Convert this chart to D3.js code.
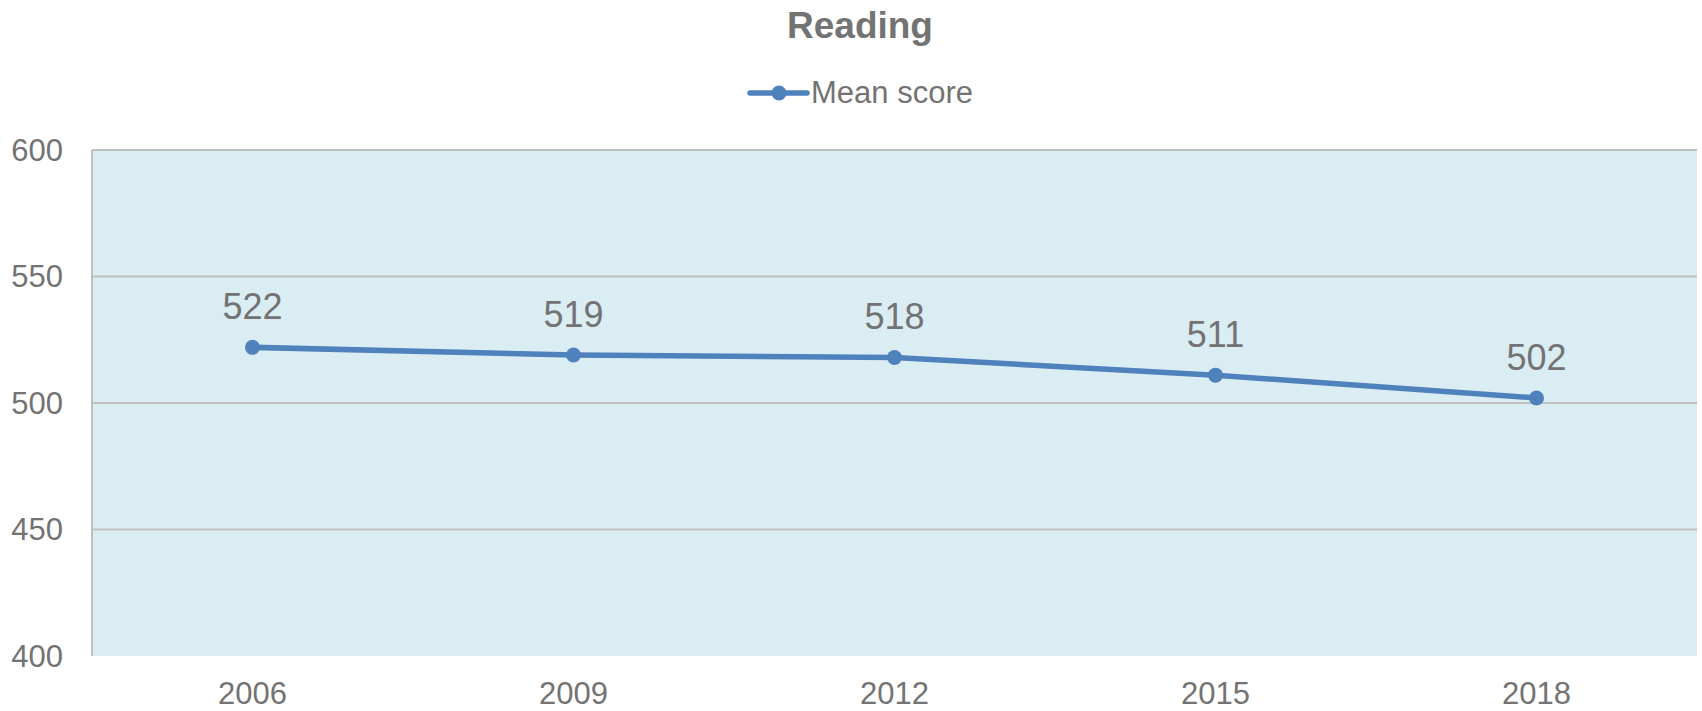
<!DOCTYPE html>
<html>
<head>
<meta charset="utf-8">
<script src="https://cdn.jsdelivr.net/npm/d3@7"></script>
<style>
  body { margin: 0; background: #fff; }
  text { font-family: "Liberation Sans", Arial, sans-serif; fill: #737373; }
</style>
</head>
<body>
<div id="chart"></div>
<script>
const years = ["2006", "2009", "2012", "2015", "2018"]
const meanScore = [522, 519, 518, 511, 502]
const yTicks = [400, 450, 500, 550, 600]

let width = 1702,
    height = 711

let margin = { left: 92, right: 5, top: 150, bottom: 55 }

let svg = d3.select("#chart")
    .append("svg")
    .attr("width", width)
    .attr("height", height)

let x = d3.scaleBand()
    .domain(years)
    .range([margin.left, width - margin.right])

let y = d3.scaleLinear()
    .domain([400, 600])
    .range([height - margin.bottom, margin.top])

// plot background
svg.append("rect")
    .attr("x", margin.left)
    .attr("y", margin.top)
    .attr("width", width - margin.right - margin.left)
    .attr("height", height - margin.bottom - margin.top)
    .attr("fill", "#DAEDF3")

// gridlines
svg.selectAll(".grid")
    .data(yTicks.filter(d => d > 400))
    .enter().append("line")
    .attr("class", "grid")
    .attr("x1", margin.left)
    .attr("x2", width - margin.right)
    .attr("y1", d => y(d))
    .attr("y2", d => y(d))
    .attr("stroke", "#BFBFBF")
    .attr("stroke-width", 2)

// left axis line
svg.append("line")
    .attr("x1", margin.left)
    .attr("x2", margin.left)
    .attr("y1", margin.top)
    .attr("y2", height - margin.bottom)
    .attr("stroke", "#BFBFBF")
    .attr("stroke-width", 2)

// y labels
svg.selectAll(".ylab")
    .data(yTicks)
    .enter().append("text")
    .attr("class", "ylab")
    .attr("x", 63)
    .attr("y", d => y(d))
    .attr("dy", "0.35em")
    .attr("text-anchor", "end")
    .style("font-size", "31px")
    .text(d => d)

// x labels
svg.selectAll(".xlab")
    .data(years)
    .enter().append("text")
    .attr("class", "xlab")
    .attr("x", d => x(d) + x.bandwidth() / 2)
    .attr("y", 704)
    .attr("text-anchor", "middle")
    .style("font-size", "31px")
    .text(d => d)

let points = years.map((yr, i) => ({ year: yr, value: meanScore[i] }))

let line = d3.line()
    .x(d => x(d.year) + x.bandwidth() / 2)
    .y(d => y(d.value))

svg.append("path")
    .datum(points)
    .attr("d", line)
    .attr("fill", "none")
    .attr("stroke", "#4F81BD")
    .attr("stroke-width", 5.5)
    .attr("stroke-linejoin", "round")

svg.selectAll(".dot")
    .data(points)
    .enter().append("circle")
    .attr("class", "dot")
    .attr("cx", d => x(d.year) + x.bandwidth() / 2)
    .attr("cy", d => y(d.value))
    .attr("r", 7.5)
    .attr("fill", "#4F81BD")

svg.selectAll(".vlab")
    .data(points)
    .enter().append("text")
    .attr("class", "vlab")
    .attr("x", d => x(d.year) + x.bandwidth() / 2)
    .attr("y", d => y(d.value) - 28)
    .attr("text-anchor", "middle")
    .style("font-size", "36px")
    .text(d => d.value)

// title
svg.append("text")
    .attr("x", 860)
    .attr("y", 38)
    .attr("text-anchor", "middle")
    .style("font-size", "37px")
    .style("font-weight", "bold")
    .text("Reading")

// legend
let legend = svg.append("g")
legend.append("line")
    .attr("x1", 750).attr("x2", 807)
    .attr("y1", 93).attr("y2", 93)
    .attr("stroke", "#4F81BD")
    .attr("stroke-width", 5.5)
    .attr("stroke-linecap", "round")
legend.append("circle")
    .attr("cx", 779).attr("cy", 93)
    .attr("r", 7.5)
    .attr("fill", "#4F81BD")
legend.append("text")
    .attr("x", 811)
    .attr("y", 103)
    .style("font-size", "31px")
    .text("Mean score")
</script>
</body>
</html>
